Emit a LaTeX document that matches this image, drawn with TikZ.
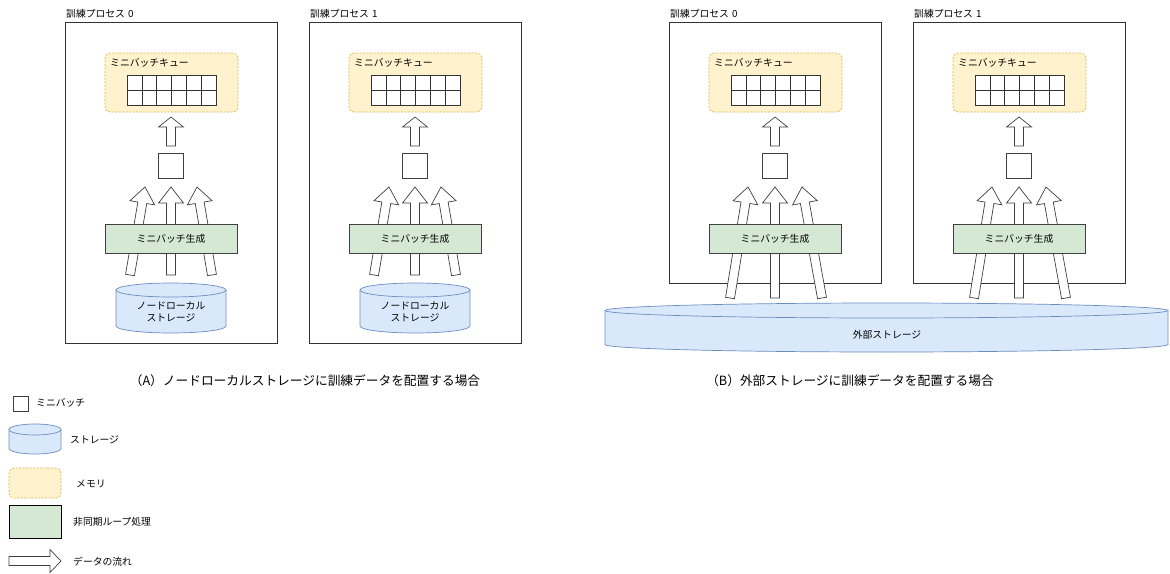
\documentclass[tikz,border=0pt]{standalone}
\usepackage{fontspec}
\setmainfont{Noto Sans CJK JP}
\usetikzlibrary{calc}
\definecolor{memfill}{HTML}{FFF2CC}
\definecolor{memline}{HTML}{D6B656}
\definecolor{genfill}{HTML}{D5E8D4}
\definecolor{storfill}{HTML}{DAE8FC}
\definecolor{storline}{HTML}{6C8EBF}
\tikzset{
  proc/.style={draw=black!80, line width=0.7pt, inner sep=0pt, outer sep=0pt},
  mem/.style={draw=memline, fill=memfill, dashed, dash pattern=on 2pt off 1.5pt, rounded corners=5pt, line width=0.7pt, inner sep=0pt, outer sep=0pt},
  gen/.style={draw=black!75, fill=genfill, line width=0.7pt, inner sep=0pt, outer sep=0pt, font=\fontsize{9.8}{11}\selectfont},
  mb/.style={draw=black!75, fill=white, line width=0.7pt, inner sep=0pt, outer sep=0pt},
  gridbox/.style={draw=black!80, fill=white, line width=0.6pt, inner sep=0pt, outer sep=0pt},
  gridl/.style={draw=black!80, line width=0.6pt},
  stor/.style={draw=storline, fill=storfill, line width=0.7pt},
  flow/.style={draw=black!75, fill=white, line width=0.7pt, line join=miter},
  lbl/.style={font=\fontsize{9.8}{12.5}\selectfont, inner sep=0pt, align=center},
  ttl/.style={font=\fontsize{9.8}{11}\selectfont, inner sep=0pt},
  captext/.style={font=\fontsize{12.7}{14}\selectfont, inner sep=0pt},
}
% fat block arrow: from, to, shaft half width, head half width, head length
\newcommand\FatFlow[5]{%
  \coordinate (fah) at ($(#2)!#5!(#1)$);
  \draw[flow] ($(#1)!#3!-90:(#2)$) -- ($(fah)!#3!90:(#1)$) -- ($(fah)!#4!90:(#1)$) -- (#2)
    -- ($(fah)!#4!-90:(#1)$) -- ($(fah)!#3!-90:(#1)$) -- ($(#1)!#3!90:(#2)$) -- cycle;}
% cylinder: cx, y top centre, y bottom centre, rx (pt), ry (pt)
\newcommand\DrumShape[5]{%
  \draw[stor] ({#1-#4},#2) -- ({#1-#4},#3) arc[start angle=180,end angle=360,x radius=#4pt,y radius=#5pt]
    -- ({#1+#4},#2) arc[start angle=0,end angle=180,x radius=#4pt,y radius=#5pt] -- cycle;
  \draw[stor, fill=none] ({#1-#4},#2) arc[start angle=180,end angle=360,x radius=#4pt,y radius=#5pt];}
% training process: suffix, dx, box height, title, arrow coordinates
\newcommand\TrainProc[8]{%
  \node[proc, minimum width=212pt, minimum height=#3pt, anchor=north west] (box#1) at (65+#2,22) {};
  \node[ttl, anchor=base west] (title#1) at (66+#2,17) {#4};
  \node[mem, minimum width=133pt, minimum height=59pt, anchor=north west] (q#1) at (105+#2,53) {};
  \node[lbl, anchor=west] (ql#1) at (110+#2,63) {ミニバッチキュー};
  \node[gridbox, minimum width=89pt, minimum height=30pt, anchor=north west] (g#1) at (127+#2,75) {};
  \foreach \i in {1,...,5} {\draw[gridl] ({127+#2+\i*14.833},75) -- ({127+#2+\i*14.833},105);}
  \draw[gridl] (g#1.west) -- (g#1.east);
  \coordinate (qa0#1) at (171+#2,146);
  \coordinate (qa1#1) at (171+#2,117);
  \FatFlow{qa0#1}{qa1#1}{4.5pt}{12.5pt}{10pt}
  \node[mb, minimum size=25pt, anchor=north west] (sq#1) at (158+#2,153) {};
  \coordinate (la0#1) at (#5+#2,#8);
  \coordinate (la1#1) at (#6+#2,187);
  \coordinate (ca0#1) at (171+#2,#8);
  \coordinate (ca1#1) at (171+#2,187);
  \coordinate (ra0#1) at (#7+#2,#8);
  \coordinate (ra1#1) at (342-#6+#2,187);
  \FatFlow{la0#1}{la1#1}{4.5pt}{12.5pt}{16pt}
  \FatFlow{ca0#1}{ca1#1}{4.5pt}{12.5pt}{16pt}
  \FatFlow{ra0#1}{ra1#1}{4.5pt}{12.5pt}{16pt}
  \node[gen, minimum width=132pt, minimum height=29pt, anchor=north west] (gen#1) at (105+#2,224) {ミニバッチ生成};
}
\begin{document}
\begin{tikzpicture}[x=1pt,y=-1pt]
\useasboundingbox[fill=white] (0,0) rectangle (1170,573);
% (A)
\TrainProc{A0}{0}{321}{訓練プロセス\hspace{3pt}0}{130}{145}{212}{275}
\TrainProc{A1}{244}{321}{訓練プロセス\hspace{3pt}1}{130}{145}{212}{275}
\DrumShape{171}{290}{326}{55}{7}
\node[lbl] (sA0) at (171,312) {ノードローカル\\ストレージ};
\DrumShape{415}{290}{326}{55}{7}
\node[lbl] (sA1) at (415,312) {ノードローカル\\ストレージ};
% (B)
\TrainProc{B0}{604}{261}{訓練プロセス\hspace{3pt}0}{126}{144}{218}{298}
\TrainProc{B1}{848}{261}{訓練プロセス\hspace{3pt}1}{126}{144}{218}{298}
\DrumShape{886.5}{310.5}{344.5}{281.5}{7.5}
\node[lbl] (sB) at (887,335) {外部ストレージ};
% captions
\node[captext] (capA) at (305,381) {（A）ノードローカルストレージに訓練データを配置する場合};
\node[captext] (capB) at (850,381) {（B）外部ストレージに訓練データを配置する場合};
% legend
\node[mb, minimum size=15pt, anchor=north west] (lsq) at (13,396) {};
\node[lbl, anchor=west] (lsqt) at (36,403) {ミニバッチ};
\DrumShape{35}{429.5}{448.5}{26}{5.5}
\node[lbl, anchor=west] (lst) at (70,440) {ストレージ};
\node[mem, minimum width=52pt, minimum height=30pt, anchor=north west] (lmem) at (9,468) {};
\node[lbl, anchor=west] (lmemt) at (76,484) {メモリ};
\node[gen, draw=black, minimum width=52pt, minimum height=33pt, anchor=north west] (lgen) at (9,505) {};
\node[lbl, anchor=west] (lgent) at (73,522) {非同期ループ処理};
\coordinate (lf0) at (9,561);
\coordinate (lf1) at (61,561);
\FatFlow{lf0}{lf1}{4.5pt}{11.5pt}{11pt}
\node[lbl, anchor=west] (lft) at (73,562) {データの流れ};
\end{tikzpicture}
\end{document}
